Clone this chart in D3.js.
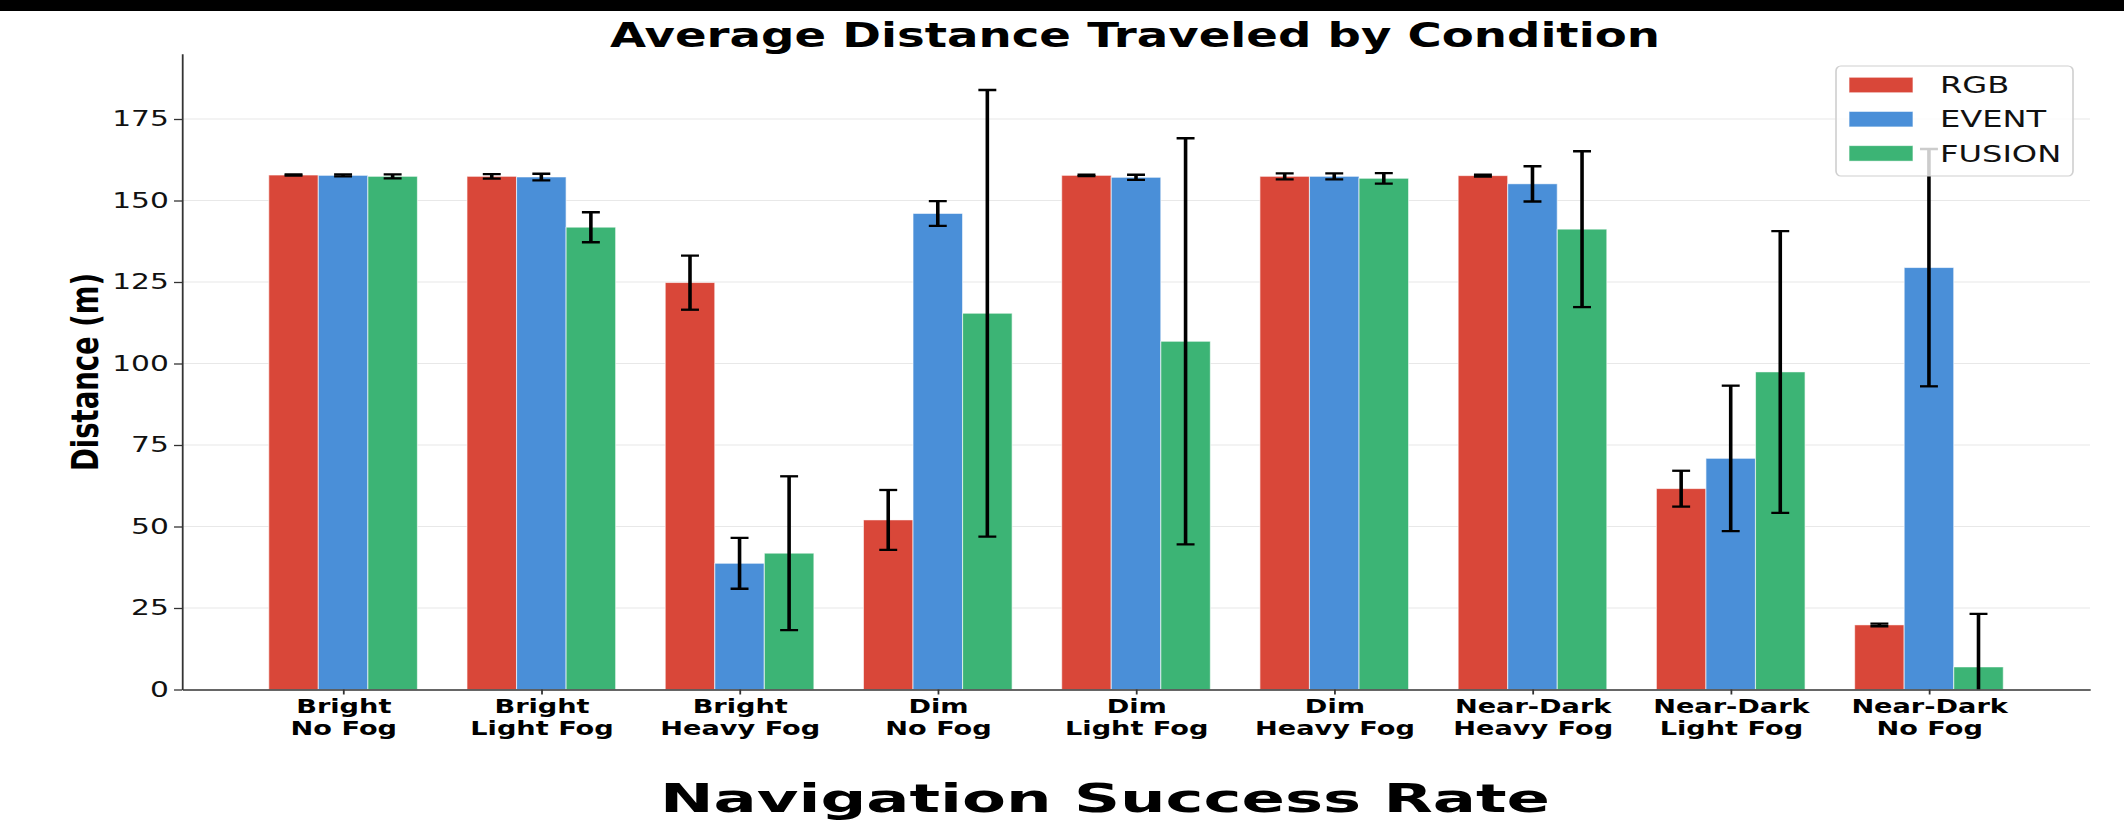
<!DOCTYPE html>
<html>
<head>
<meta charset="utf-8">
<script src="https://cdn.jsdelivr.net/npm/d3@7"></script>
<style>
  html, body { margin: 0; padding: 0; background: #fff; }
  svg { display: block; }
  text { font-family: "DejaVu Sans", sans-serif; }
</style>
</head>
<body>
<svg id="chart" width="2124" height="823"></svg>
<script>
// ---- data ----
const conditions = [
  "Bright\nNo Fog", "Bright\nLight Fog", "Bright\nHeavy Fog",
  "Dim\nNo Fog", "Dim\nLight Fog", "Dim\nHeavy Fog",
  "Near-Dark\nHeavy Fog", "Near-Dark\nLight Fog", "Near-Dark\nNo Fog"
];
const seriesNames = ["RGB", "EVENT", "FUSION"];
const seriesColors = ["#d94739", "#4a8fd8", "#3cb475"];

const rgbMean    = [157.8, 157.4, 124.8, 52.0, 157.7, 157.4, 157.6, 61.6, 19.8];
const rgbErr     = [0.2, 0.7, 8.3, 9.2, 0.2, 0.9, 0.3, 5.5, 0.4];
const eventMean  = [157.7, 157.2, 38.7, 146.0, 157.1, 157.4, 155.1, 70.9, 129.4];
const eventErr   = [0.3, 1.0, 7.8, 3.8, 0.8, 0.9, 5.4, 22.3, 36.4];
const fusionMean = [157.4, 141.8, 41.8, 115.4, 106.8, 156.8, 141.2, 97.4, 6.9];
const fusionErr  = [0.6, 4.6, 23.6, 68.5, 62.3, 1.6, 23.9, 43.2, 16.3];

const yTicks = [0, 25, 50, 75, 100, 125, 150, 175];

const chartTitle = "Average Distance Traveled by Condition";
const xTitle = "Navigation Success Rate";
const yTitle = "Distance (m)";

// ---- layout ----
const SX = 1.38;                 // the figure is drawn widened horizontally
const plot = { left: 131.9, right: 1514.5, top: 53.8, bottom: 689.5 };
const barW = 0.25;               // bar width in category units

const series = [
  { name: seriesNames[0], color: seriesColors[0], mean: rgbMean,    err: rgbErr },
  { name: seriesNames[1], color: seriesColors[1], mean: eventMean,  err: eventErr },
  { name: seriesNames[2], color: seriesColors[2], mean: fusionMean, err: fusionErr }
];

const svg = d3.select("#chart");
svg.append("rect").attr("x", 0).attr("y", 0).attr("width", 2124).attr("height", 11).attr("fill", "#000");

const root = svg.append("g").attr("transform", `scale(${SX},1)`);

const x = d3.scaleLinear().domain([-0.8125, conditions.length - 1 + 0.8125]).range([plot.left, plot.right]);
const y = d3.scaleLinear().domain([0, 195]).range([plot.bottom, plot.top]);

root.append("defs").append("clipPath").attr("id", "plotClip")
  .append("rect")
  .attr("x", plot.left).attr("y", plot.top)
  .attr("width", plot.right - plot.left).attr("height", plot.bottom - plot.top);

// grid
root.append("g").selectAll("line")
  .data(yTicks.filter(d => d > 0))
  .join("line")
  .attr("x1", plot.left).attr("x2", plot.right)
  .attr("y1", d => y(d)).attr("y2", d => y(d))
  .attr("stroke", "#e8e8e8").attr("stroke-width", 1);

// bars
const barsG = root.append("g");
series.forEach((s, j) => {
  barsG.append("g").selectAll("rect")
    .data(s.mean)
    .join("rect")
    .attr("x", (d, i) => x(i + (j - 1) * barW - barW / 2))
    .attr("width", x(barW) - x(0))
    .attr("y", d => y(d))
    .attr("height", d => y(0) - y(d))
    .attr("fill", s.color)
    .attr("stroke", "rgba(255,255,255,0.6)")
    .attr("stroke-width", 0.8);
});

// error bars
const errG = root.append("g").attr("clip-path", "url(#plotClip)");
const capHalf = 6.5;
series.forEach((s, j) => {
  const g = errG.append("g");
  s.mean.forEach((m, i) => {
    const cx = x(i + (j - 1) * barW);
    const lo = y(m - s.err[i]), hi = y(m + s.err[i]);
    g.append("line").attr("x1", cx).attr("x2", cx).attr("y1", lo).attr("y2", hi)
      .attr("stroke", "#000").attr("stroke-width", 2.6);
    [lo, hi].forEach(yy => {
      g.append("line").attr("x1", cx - capHalf).attr("x2", cx + capHalf)
        .attr("y1", yy).attr("y2", yy)
        .attr("stroke", "#000").attr("stroke-width", 2.3);
    });
  });
});

// axes
const yAxis = root.append("g").attr("transform", `translate(${plot.left},0)`)
  .call(d3.axisLeft(y).tickValues(yTicks).tickSize(5.8).tickSizeOuter(0).tickPadding(3.8));
yAxis.select(".domain").attr("stroke", "#333").attr("stroke-width", 1.3);
yAxis.selectAll(".tick line").attr("stroke", "#333").attr("stroke-width", 1.3);
yAxis.selectAll(".tick text")
  .attr("font-family", "DejaVu Sans").attr("font-size", 21.5).attr("fill", "#111");

const xAxis = root.append("g").attr("transform", `translate(0,${plot.bottom})`)
  .call(d3.axisBottom(x).tickValues(d3.range(conditions.length)).tickSize(5).tickSizeOuter(0));
xAxis.select(".domain").attr("stroke", "#333").attr("stroke-width", 1.3);
xAxis.selectAll(".tick line").attr("stroke", "#333").attr("stroke-width", 1.3);
xAxis.selectAll(".tick text").remove();
xAxis.selectAll(".tick").append("text")
  .attr("y", 23.5)
  .attr("text-anchor", "middle")
  .attr("font-family", "DejaVu Sans").attr("font-weight", "bold").attr("font-size", 19.7)
  .attr("fill", "#000")
  .each(function (d) {
    const lines = conditions[d].split("\n");
    const t = d3.select(this);
    lines.forEach((ln, k) => {
      t.append("tspan").attr("x", 0).attr("dy", k === 0 ? 0 : 21.6).text(ln);
    });
  });

// titles
root.append("text")
  .attr("x", 1135 / SX).attr("y", 47)
  .attr("text-anchor", "middle")
  .attr("font-weight", "bold").attr("font-size", 33.8)
  .text(chartTitle);

root.append("text")
  .attr("x", 1105 / SX).attr("y", 812)
  .attr("text-anchor", "middle")
  .attr("font-weight", "bold").attr("font-size", 38.5)
  .attr("textLength", 890 / SX).attr("lengthAdjust", "spacingAndGlyphs")
  .text(xTitle);

root.append("text")
  .attr("transform", `translate(71,372) rotate(-90)`)
  .attr("text-anchor", "middle")
  .attr("font-weight", "bold").attr("font-size", 27.5)
  .text(yTitle);

// legend
const leg = root.append("g");
leg.append("rect")
  .attr("x", 1836 / SX).attr("y", 66)
  .attr("width", (2073 - 1836) / SX).attr("height", 110)
  .attr("rx", 3.5).attr("ry", 5)
  .attr("fill", "rgba(255,255,255,0.8)")
  .attr("stroke", "#d0d0d0").attr("stroke-width", 1.2);
series.forEach((s, j) => {
  const top = 77.3 + j * 34.2;
  leg.append("rect")
    .attr("x", 1849 / SX).attr("y", top)
    .attr("width", 64 / SX).attr("height", 15.4)
    .attr("fill", s.color)
    .attr("stroke", "rgba(255,255,255,0.6)").attr("stroke-width", 0.8);
  leg.append("text")
    .attr("x", 1940 / SX).attr("y", top + 16)
    .attr("font-size", 23.3).attr("fill", "#111")
    .text(s.name);
});
</script>
</body>
</html>
